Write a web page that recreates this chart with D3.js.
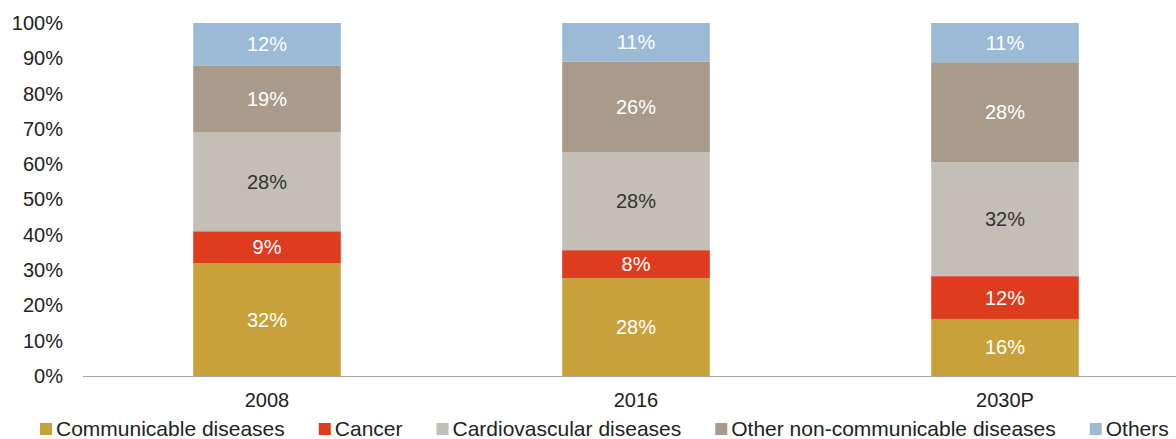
<!DOCTYPE html>
<html>
  <head>
    <meta charset="utf-8" />
    <title>Disease share</title>
    <script src="https://d3js.org/d3.v7.min.js"></script>
    <style>
      body { margin: 0; background: #fff; }
      text { font-family: "Liberation Sans", Arial, sans-serif; }
    </style>
  </head>
  <body>
    <svg width="1176" height="439"></svg>
    <script>
      // Data
      var years = ["2008", "2016", "2030P"];
      var series = ["Communicable diseases", "Cancer", "Cardiovascular diseases", "Other non-communicable diseases", "Others"];
      var communicable = [32, 28, 16];
      var cancer = [9, 8, 12];
      var cardiovascular = [28, 28, 32];
      var otherNcd = [19, 26, 28];
      var others = [12, 11, 11];
      var yTicks = [0, 0.1, 0.2, 0.3, 0.4, 0.5, 0.6, 0.7, 0.8, 0.9, 1];

      var colors = ["#c9a13b", "#df3b1f", "#c4bfb6", "#a89b8c", "#9bbad6"];
      var labelColors = ["#fff", "#fff", "#333", "#fff", "#fff"];

      var table = years.map(function (y, i) {
        var row = { year: y };
        row[series[0]] = communicable[i];
        row[series[1]] = cancer[i];
        row[series[2]] = cardiovascular[i];
        row[series[3]] = otherNcd[i];
        row[series[4]] = others[i];
        return row;
      });

      var svg = d3.select("svg");

      // plot extends a little past the right edge, like the source
      var x = d3.scaleBand().domain(years).range([82.5, 1189.5])
        .paddingInner(0.6).paddingOuter(0.3);
      var y = d3.scaleLinear().domain([0, 1]).range([376, 23]);

      var stack = d3.stack().keys(series).offset(d3.stackOffsetExpand);
      var layers = stack(table);

      var g = svg.append("g");

      var layer = g.selectAll(".layer")
        .data(layers)
        .enter()
        .append("g")
        .attr("class", "layer")
        .attr("fill", function (d, i) { return colors[i]; });

      layer.selectAll("rect")
        .data(function (d) { return d; })
        .enter()
        .append("rect")
        .attr("x", function (d) { return x(d.data.year); })
        .attr("y", function (d) { return y(d[1]); })
        .attr("width", x.bandwidth())
        .attr("height", function (d) { return y(d[0]) - y(d[1]); });

      // value labels
      layers.forEach(function (L, i) {
        g.selectAll(".lbl" + i)
          .data(L)
          .enter()
          .append("text")
          .attr("x", function (d) { return x(d.data.year) + x.bandwidth() / 2; })
          .attr("y", function (d) { return (y(d[0]) + y(d[1])) / 2; })
          .attr("dy", "0.35em")
          .attr("text-anchor", "middle")
          .attr("fill", labelColors[i])
          .style("font-size", "20px")
          .text(function (d) { return d.data[L.key] + "%"; });
      });

      // x axis
      var xAxis = g.append("g")
        .attr("transform", "translate(0,376)")
        .call(d3.axisBottom(x).tickSize(0).tickPadding(17));
      xAxis.select(".domain").attr("stroke", "#a6a6a6").attr("stroke-width", 1.2);
      xAxis.selectAll("text").style("font-size", "20px").attr("fill", "#222");

      // y axis
      var yAxis = g.append("g")
        .attr("transform", "translate(63,0)")
        .call(d3.axisLeft(y).tickValues(yTicks).tickFormat(d3.format(".0%")).tickSize(0).tickPadding(0));
      yAxis.select(".domain").remove();
      yAxis.selectAll("text").style("font-size", "20px").attr("fill", "#222");

      // legend
      var legend = svg.append("g");
      var lx = 40;
      series.forEach(function (s, i) {
        legend.append("rect")
          .attr("x", lx).attr("y", 423)
          .attr("width", 12).attr("height", 12)
          .attr("fill", colors[i]);
        var t = legend.append("text")
          .attr("x", lx + 16).attr("y", 436)
          .attr("fill", "#222")
          .style("font-size", "21px")
          .text(s);
        lx += 16 + t.node().getComputedTextLength() + 34;
      });
    </script>
  </body>
</html>
